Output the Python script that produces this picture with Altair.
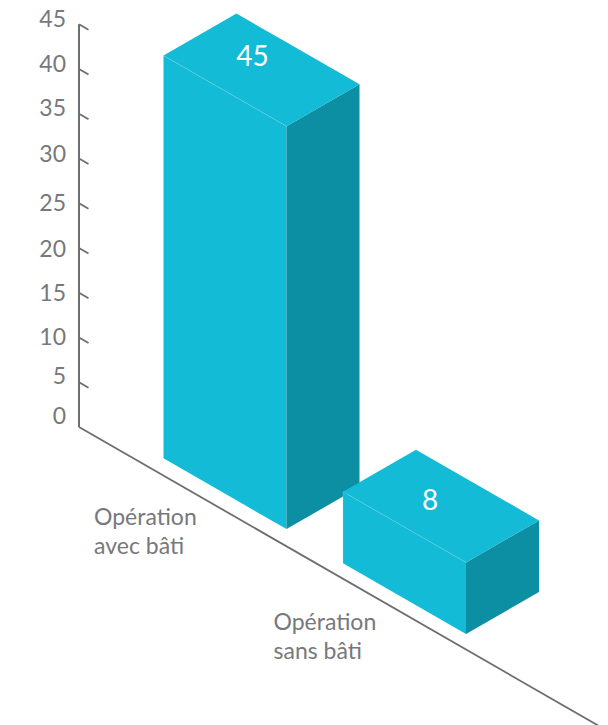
import altair as alt
import pandas as pd

# Chart content
categories = [["Opération", "avec bâti"], ["Opération", "sans bâti"]]
values = [45, 8]
ticks = [0, 5, 10, 15, 20, 25, 30, 35, 40, 45]

# Isometric layout, in pixels
W, H = 608, 725
ORIGIN_X, ORIGIN_Y = 79, 427
PX_PER_UNIT = 8.95
SLOPE = 0.575
BAR_U = [69.5, 250.5]
BAR_V = [15, 13.5]
BAR_WIDTH, BAR_DEPTH = 123, 73
BASE_LENGTH = 521

# Vertical nudge of each tick label's centre and of the value labels
TICK_LABEL_DY = [-10, -5, 0, 1, 2, 1, -4, -5, -4, -4]
VALUE_LABEL_SHIFT = [(-9, -12), (-11, -4)]

FRONT = "#13BBD6"
SIDE = "#0C8EA3"
LINE_GREY = "#6D6E71"
TEXT_GREY = "#77787B"


def project(u, v, value):
    """Ground position (u, v) and height in chart units -> x pixel, y in value units."""
    x = ORIGIN_X + u + v
    y = value - SLOPE * (u - v) / PX_PER_UNIT
    return x, y


def box_faces(i):
    u0, v0, val = BAR_U[i], BAR_V[i], values[i]
    u1, v1 = u0 + BAR_WIDTH, v0 + BAR_DEPTH
    rows = []

    def add(face, x, y, y2):
        rows.append(dict(bar=i, face=face, x=x, y=y, y2=y2))

    # front and side faces run from the ground up to the value
    for u, v in [(u0, v0), (u1, v0)]:
        x, top = project(u, v, val)
        add("front", x, top, project(u, v, 0)[1])
    for u, v in [(u1, v0), (u1, v1)]:
        x, top = project(u, v, val)
        add("side", x, top, project(u, v, 0)[1])

    # top face, split at each corner's x position
    left = project(u0, v0, val)
    back = project(u0, v1, val)
    front = project(u1, v0, val)
    right = project(u1, v1, val)
    step = SLOPE * BAR_DEPTH / PX_PER_UNIT
    add("top", left[0], left[1], left[1])
    add("top", back[0], back[1], back[1] - 2 * step)
    add("top", front[0], front[1] + 2 * step, front[1])
    add("top", right[0], right[1], right[1])
    return pd.DataFrame(rows)


x_scale = alt.Scale(domain=[0, W], range=[0, W])
y_scale = alt.Scale(
    domain=[(ORIGIN_Y - H) / PX_PER_UNIT, ORIGIN_Y / PX_PER_UNIT], range=[H, 0]
)
X = alt.X("x:Q", scale=x_scale, axis=None)
Y = alt.Y("y:Q", scale=y_scale, axis=None)


def box_layer(i):
    faces = box_faces(i)
    layers = []
    for face, colour in [("front", FRONT), ("side", SIDE), ("top", FRONT)]:
        layers.append(
            alt.Chart(faces[faces.face == face])
            .mark_area(color=colour, interpolate="linear")
            .encode(x=X, y=Y, y2="y2:Q")
        )
    # pale seams along the front face's upper and left edges
    u0, v0, val = BAR_U[i], BAR_V[i], values[i]
    a = project(u0, v0, 0)
    b = project(u0, v0, val)
    c = project(u0 + BAR_WIDTH, v0, val)
    seam = pd.DataFrame(
        [dict(x=a[0], y=a[1], o=0), dict(x=b[0], y=b[1], o=1), dict(x=c[0], y=c[1], o=2)]
    )
    layers.append(
        alt.Chart(seam)
        .mark_line(color="#8FE0EC", strokeWidth=0.5, opacity=0.55)
        .encode(x=X, y=Y, order="o:Q")
    )
    return layers


# Value axis: the vertical line plus slanted ticks running along the ground direction
axis_rows = [dict(x=ORIGIN_X, y=0.0, o=0), dict(x=ORIGIN_X, y=float(ticks[-1]), o=1)]
axis_line = alt.Chart(pd.DataFrame(axis_rows)).mark_line(
    color=LINE_GREY, strokeWidth=2
).encode(x=X, y=Y, order="o:Q")

tick_rows = []
for t in ticks[1:]:
    for o, u in enumerate([0, 9.5]):
        x, y = project(u, 0, t)
        tick_rows.append(dict(t=t, x=x, y=y, o=o))
tick_marks = alt.Chart(pd.DataFrame(tick_rows)).mark_line(
    color=LINE_GREY, strokeWidth=1.8
).encode(x=X, y=Y, detail="t:N", order="o:Q")

tick_label_rows = [
    dict(label=str(t), x=66, y=t - dy / PX_PER_UNIT)
    for t, dy in zip(ticks, TICK_LABEL_DY)
]
tick_labels = alt.Chart(pd.DataFrame(tick_label_rows)).mark_text(
    font="Lato", fontSize=23, color=TEXT_GREY, align="right", baseline="middle"
).encode(x=X, y=Y, text="label:N")

# Ground line and its category labels
base_rows = [
    dict(zip(("x", "y"), project(u, 0, 0)), o=o)
    for o, u in enumerate([0, BASE_LENGTH])
]
base_line = alt.Chart(pd.DataFrame(base_rows)).mark_line(
    color=LINE_GREY, strokeWidth=1.8
).encode(x=X, y=Y, order="o:Q")

cat_rows = []
for i, lines in enumerate(categories):
    x, y = project(BAR_U[i], BAR_V[i], 0)
    for n, line in enumerate(lines):
        cat_rows.append(dict(label=line, x=x - 69.5, y=y - (60 + n * 29) / PX_PER_UNIT))
cat_labels = alt.Chart(pd.DataFrame(cat_rows)).mark_text(
    font="Lato", fontSize=23, color=TEXT_GREY, align="left", baseline="middle"
).encode(x=X, y=Y, text="label:N")

# Value labels on the top faces
value_rows = []
for i, val in enumerate(values):
    x, y = project(BAR_U[i] + BAR_WIDTH / 2, BAR_V[i] + BAR_DEPTH / 2, val)
    dx, dy = VALUE_LABEL_SHIFT[i]
    value_rows.append(dict(label=str(val), x=x + dx, y=y - dy / PX_PER_UNIT))
value_labels = alt.Chart(pd.DataFrame(value_rows)).mark_text(
    font="Lato", fontSize=28, color="white", align="center", baseline="middle"
).encode(x=X, y=Y, text="label:N")

chart = alt.layer(
    axis_line,
    tick_marks,
    tick_labels,
    base_line,
    cat_labels,
    *box_layer(0),
    *box_layer(1),
    value_labels,
).properties(
    width=W,
    height=H,
    padding=0,
    background="white",
    autosize=alt.AutoSizeParams(type="none"),
).configure_view(stroke=None)

chart.save("out.html", embed_options={"renderer": "svg", "actions": False})
